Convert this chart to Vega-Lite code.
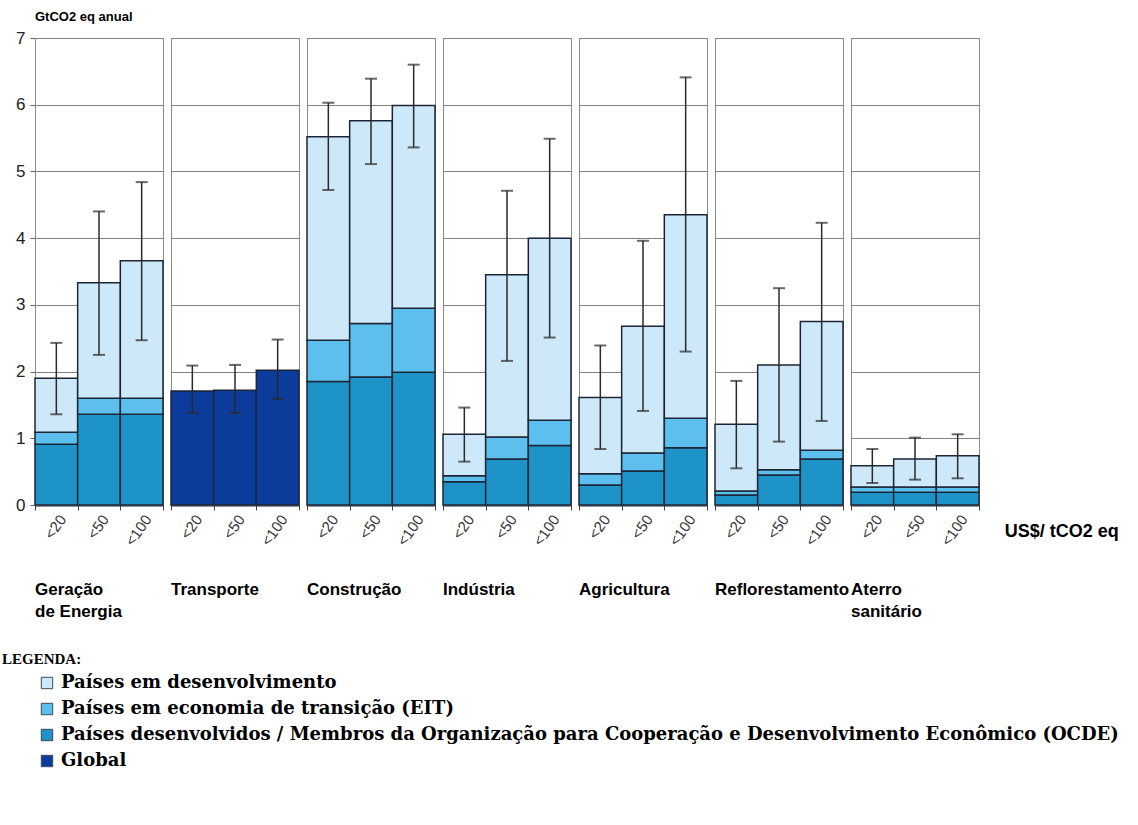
{
  "$schema": "https://vega.github.io/schema/vega-lite/v6.json",
  "padding": {"left": 2, "top": 11, "right": 5, "bottom": 5},
  "bounds": "flush",
  "title": {
    "text": "GtCO2 eq anual",
    "anchor": "start",
    "frame": "group",
    "font": "Liberation Sans",
    "fontSize": 13,
    "fontWeight": "bold",
    "color": "#000000",
    "offset": 5
  },
  "data": {
    "values": [
      {"setor": "Geração de Energia", "preco": "<20", "grupo": "Países desenvolvidos / Membros da Organização para Cooperação e Desenvolvimento Econômico (OCDE)", "ordem": 1, "valor": 0.91},
      {"setor": "Geração de Energia", "preco": "<20", "grupo": "Países em economia de transição (EIT)", "ordem": 2, "valor": 0.18},
      {"setor": "Geração de Energia", "preco": "<20", "grupo": "Países em desenvolvimento", "ordem": 3, "valor": 0.81},
      {"setor": "Geração de Energia", "preco": "<50", "grupo": "Países desenvolvidos / Membros da Organização para Cooperação e Desenvolvimento Econômico (OCDE)", "ordem": 1, "valor": 1.36},
      {"setor": "Geração de Energia", "preco": "<50", "grupo": "Países em economia de transição (EIT)", "ordem": 2, "valor": 0.24},
      {"setor": "Geração de Energia", "preco": "<50", "grupo": "Países em desenvolvimento", "ordem": 3, "valor": 1.73},
      {"setor": "Geração de Energia", "preco": "<100", "grupo": "Países desenvolvidos / Membros da Organização para Cooperação e Desenvolvimento Econômico (OCDE)", "ordem": 1, "valor": 1.36},
      {"setor": "Geração de Energia", "preco": "<100", "grupo": "Países em economia de transição (EIT)", "ordem": 2, "valor": 0.24},
      {"setor": "Geração de Energia", "preco": "<100", "grupo": "Países em desenvolvimento", "ordem": 3, "valor": 2.06},

      {"setor": "Transporte", "preco": "<20", "grupo": "Global", "ordem": 1, "valor": 1.71},
      {"setor": "Transporte", "preco": "<50", "grupo": "Global", "ordem": 1, "valor": 1.72},
      {"setor": "Transporte", "preco": "<100", "grupo": "Global", "ordem": 1, "valor": 2.02},

      {"setor": "Construção", "preco": "<20", "grupo": "Países desenvolvidos / Membros da Organização para Cooperação e Desenvolvimento Econômico (OCDE)", "ordem": 1, "valor": 1.85},
      {"setor": "Construção", "preco": "<20", "grupo": "Países em economia de transição (EIT)", "ordem": 2, "valor": 0.62},
      {"setor": "Construção", "preco": "<20", "grupo": "Países em desenvolvimento", "ordem": 3, "valor": 3.05},
      {"setor": "Construção", "preco": "<50", "grupo": "Países desenvolvidos / Membros da Organização para Cooperação e Desenvolvimento Econômico (OCDE)", "ordem": 1, "valor": 1.92},
      {"setor": "Construção", "preco": "<50", "grupo": "Países em economia de transição (EIT)", "ordem": 2, "valor": 0.80},
      {"setor": "Construção", "preco": "<50", "grupo": "Países em desenvolvimento", "ordem": 3, "valor": 3.04},
      {"setor": "Construção", "preco": "<100", "grupo": "Países desenvolvidos / Membros da Organização para Cooperação e Desenvolvimento Econômico (OCDE)", "ordem": 1, "valor": 1.99},
      {"setor": "Construção", "preco": "<100", "grupo": "Países em economia de transição (EIT)", "ordem": 2, "valor": 0.96},
      {"setor": "Construção", "preco": "<100", "grupo": "Países em desenvolvimento", "ordem": 3, "valor": 3.04},

      {"setor": "Indústria", "preco": "<20", "grupo": "Países desenvolvidos / Membros da Organização para Cooperação e Desenvolvimento Econômico (OCDE)", "ordem": 1, "valor": 0.35},
      {"setor": "Indústria", "preco": "<20", "grupo": "Países em economia de transição (EIT)", "ordem": 2, "valor": 0.09},
      {"setor": "Indústria", "preco": "<20", "grupo": "Países em desenvolvimento", "ordem": 3, "valor": 0.62},
      {"setor": "Indústria", "preco": "<50", "grupo": "Países desenvolvidos / Membros da Organização para Cooperação e Desenvolvimento Econômico (OCDE)", "ordem": 1, "valor": 0.69},
      {"setor": "Indústria", "preco": "<50", "grupo": "Países em economia de transição (EIT)", "ordem": 2, "valor": 0.33},
      {"setor": "Indústria", "preco": "<50", "grupo": "Países em desenvolvimento", "ordem": 3, "valor": 2.43},
      {"setor": "Indústria", "preco": "<100", "grupo": "Países desenvolvidos / Membros da Organização para Cooperação e Desenvolvimento Econômico (OCDE)", "ordem": 1, "valor": 0.89},
      {"setor": "Indústria", "preco": "<100", "grupo": "Países em economia de transição (EIT)", "ordem": 2, "valor": 0.38},
      {"setor": "Indústria", "preco": "<100", "grupo": "Países em desenvolvimento", "ordem": 3, "valor": 2.73},

      {"setor": "Agricultura", "preco": "<20", "grupo": "Países desenvolvidos / Membros da Organização para Cooperação e Desenvolvimento Econômico (OCDE)", "ordem": 1, "valor": 0.30},
      {"setor": "Agricultura", "preco": "<20", "grupo": "Países em economia de transição (EIT)", "ordem": 2, "valor": 0.17},
      {"setor": "Agricultura", "preco": "<20", "grupo": "Países em desenvolvimento", "ordem": 3, "valor": 1.14},
      {"setor": "Agricultura", "preco": "<50", "grupo": "Países desenvolvidos / Membros da Organização para Cooperação e Desenvolvimento Econômico (OCDE)", "ordem": 1, "valor": 0.51},
      {"setor": "Agricultura", "preco": "<50", "grupo": "Países em economia de transição (EIT)", "ordem": 2, "valor": 0.27},
      {"setor": "Agricultura", "preco": "<50", "grupo": "Países em desenvolvimento", "ordem": 3, "valor": 1.90},
      {"setor": "Agricultura", "preco": "<100", "grupo": "Países desenvolvidos / Membros da Organização para Cooperação e Desenvolvimento Econômico (OCDE)", "ordem": 1, "valor": 0.86},
      {"setor": "Agricultura", "preco": "<100", "grupo": "Países em economia de transição (EIT)", "ordem": 2, "valor": 0.44},
      {"setor": "Agricultura", "preco": "<100", "grupo": "Países em desenvolvimento", "ordem": 3, "valor": 3.05},

      {"setor": "Reflorestamento", "preco": "<20", "grupo": "Países desenvolvidos / Membros da Organização para Cooperação e Desenvolvimento Econômico (OCDE)", "ordem": 1, "valor": 0.15},
      {"setor": "Reflorestamento", "preco": "<20", "grupo": "Países em economia de transição (EIT)", "ordem": 2, "valor": 0.06},
      {"setor": "Reflorestamento", "preco": "<20", "grupo": "Países em desenvolvimento", "ordem": 3, "valor": 1.00},
      {"setor": "Reflorestamento", "preco": "<50", "grupo": "Países desenvolvidos / Membros da Organização para Cooperação e Desenvolvimento Econômico (OCDE)", "ordem": 1, "valor": 0.45},
      {"setor": "Reflorestamento", "preco": "<50", "grupo": "Países em economia de transição (EIT)", "ordem": 2, "valor": 0.08},
      {"setor": "Reflorestamento", "preco": "<50", "grupo": "Países em desenvolvimento", "ordem": 3, "valor": 1.57},
      {"setor": "Reflorestamento", "preco": "<100", "grupo": "Países desenvolvidos / Membros da Organização para Cooperação e Desenvolvimento Econômico (OCDE)", "ordem": 1, "valor": 0.69},
      {"setor": "Reflorestamento", "preco": "<100", "grupo": "Países em economia de transição (EIT)", "ordem": 2, "valor": 0.13},
      {"setor": "Reflorestamento", "preco": "<100", "grupo": "Países em desenvolvimento", "ordem": 3, "valor": 1.93},

      {"setor": "Aterro sanitário", "preco": "<20", "grupo": "Países desenvolvidos / Membros da Organização para Cooperação e Desenvolvimento Econômico (OCDE)", "ordem": 1, "valor": 0.19},
      {"setor": "Aterro sanitário", "preco": "<20", "grupo": "Países em economia de transição (EIT)", "ordem": 2, "valor": 0.08},
      {"setor": "Aterro sanitário", "preco": "<20", "grupo": "Países em desenvolvimento", "ordem": 3, "valor": 0.32},
      {"setor": "Aterro sanitário", "preco": "<50", "grupo": "Países desenvolvidos / Membros da Organização para Cooperação e Desenvolvimento Econômico (OCDE)", "ordem": 1, "valor": 0.19},
      {"setor": "Aterro sanitário", "preco": "<50", "grupo": "Países em economia de transição (EIT)", "ordem": 2, "valor": 0.08},
      {"setor": "Aterro sanitário", "preco": "<50", "grupo": "Países em desenvolvimento", "ordem": 3, "valor": 0.42},
      {"setor": "Aterro sanitário", "preco": "<100", "grupo": "Países desenvolvidos / Membros da Organização para Cooperação e Desenvolvimento Econômico (OCDE)", "ordem": 1, "valor": 0.19},
      {"setor": "Aterro sanitário", "preco": "<100", "grupo": "Países em economia de transição (EIT)", "ordem": 2, "valor": 0.08},
      {"setor": "Aterro sanitário", "preco": "<100", "grupo": "Países em desenvolvimento", "ordem": 3, "valor": 0.47},

      {"setor": "Geração de Energia", "preco": "<20", "minimo": 1.36, "maximo": 2.43},
      {"setor": "Geração de Energia", "preco": "<50", "minimo": 2.25, "maximo": 4.40},
      {"setor": "Geração de Energia", "preco": "<100", "minimo": 2.47, "maximo": 4.84},
      {"setor": "Transporte", "preco": "<20", "minimo": 1.38, "maximo": 2.09},
      {"setor": "Transporte", "preco": "<50", "minimo": 1.38, "maximo": 2.10},
      {"setor": "Transporte", "preco": "<100", "minimo": 1.59, "maximo": 2.48},
      {"setor": "Construção", "preco": "<20", "minimo": 4.72, "maximo": 6.03},
      {"setor": "Construção", "preco": "<50", "minimo": 5.11, "maximo": 6.39},
      {"setor": "Construção", "preco": "<100", "minimo": 5.36, "maximo": 6.60},
      {"setor": "Indústria", "preco": "<20", "minimo": 0.65, "maximo": 1.46},
      {"setor": "Indústria", "preco": "<50", "minimo": 2.16, "maximo": 4.71},
      {"setor": "Indústria", "preco": "<100", "minimo": 2.51, "maximo": 5.49},
      {"setor": "Agricultura", "preco": "<20", "minimo": 0.84, "maximo": 2.39},
      {"setor": "Agricultura", "preco": "<50", "minimo": 1.41, "maximo": 3.96},
      {"setor": "Agricultura", "preco": "<100", "minimo": 2.30, "maximo": 6.41},
      {"setor": "Reflorestamento", "preco": "<20", "minimo": 0.55, "maximo": 1.86},
      {"setor": "Reflorestamento", "preco": "<50", "minimo": 0.95, "maximo": 3.25},
      {"setor": "Reflorestamento", "preco": "<100", "minimo": 1.26, "maximo": 4.23},
      {"setor": "Aterro sanitário", "preco": "<20", "minimo": 0.33, "maximo": 0.84},
      {"setor": "Aterro sanitário", "preco": "<50", "minimo": 0.38, "maximo": 1.01},
      {"setor": "Aterro sanitário", "preco": "<100", "minimo": 0.40, "maximo": 1.06}
    ]
  },
  "facet": {
    "column": {
      "field": "setor",
      "type": "nominal",
      "sort": ["Geração de Energia", "Transporte", "Construção", "Indústria", "Agricultura", "Reflorestamento", "Aterro sanitário"],
      "title": null,
      "header": {
        "labelOrient": "bottom",
        "labelExpr": "datum.value == 'Geração de Energia' ? ['Geração', 'de Energia'] : datum.value == 'Aterro sanitário' ? ['Aterro', 'sanitário'] : datum.value",
        "labelFont": "Liberation Sans",
        "labelFontSize": 17,
        "labelFontWeight": "bold",
        "labelColor": "#000000",
        "labelAlign": "left",
        "labelAnchor": "start",
        "labelBaseline": "top",
        "labelLineHeight": 22,
        "labelPadding": 34,
        "labelLimit": 300
      }
    }
  },
  "spacing": 8,
  "spec": {
    "width": 128,
    "height": 467,
    "encoding": {
      "x": {
        "field": "preco",
        "type": "nominal",
        "sort": ["<20", "<50", "<100"],
        "title": null,
        "scale": {"paddingInner": 0, "paddingOuter": 0},
        "axis": {
          "labelAngle": -55,
          "labelAlign": "right",
          "labelBaseline": "middle",
          "labelFontSize": 15,
          "labelColor": "#333333",
          "labelPadding": 6,
          "labelOffset": 6,
          "tickBand": "extent",
          "tickSize": 5,
          "tickColor": "#444444",
          "domainColor": "#1c2636",
          "domainWidth": 2
        }
      }
    },
    "layer": [
      {
        "transform": [{"filter": "isValid(datum.valor)"}],
        "mark": {"type": "bar", "stroke": "#1c2636", "strokeWidth": 1.5},
        "encoding": {
          "y": {
            "field": "valor",
            "type": "quantitative",
            "stack": "zero",
            "scale": {"domain": [0, 7], "nice": false},
            "title": null,
            "axis": {
              "values": [0, 1, 2, 3, 4, 5, 6, 7],
              "format": "d",
              "grid": true,
              "gridColor": "#808080",
              "gridWidth": 1,
              "domain": false,
              "labelFontSize": 17,
              "labelColor": "#222222",
              "labelPadding": 5,
              "tickSize": 5,
              "tickColor": "#666666"
            }
          },
          "color": {
            "field": "grupo",
            "type": "nominal",
            "scale": {
              "domain": [
                "Países em desenvolvimento",
                "Países em economia de transição (EIT)",
                "Países desenvolvidos / Membros da Organização para Cooperação e Desenvolvimento Econômico (OCDE)",
                "Global"
              ],
              "range": ["#cde8f9", "#5dbfee", "#1d93c8", "#0b3b9b"]
            },
            "legend": {
              "orient": "none",
              "legendX": -33,
              "legendY": 614,
              "direction": "vertical",
              "title": "LEGENDA:",
              "titleFont": "Liberation Serif",
              "titleFontSize": 15,
              "titleFontWeight": "bold",
              "titleColor": "#000000",
              "titlePadding": 7,
              "labelFont": "DejaVu Serif",
              "labelFontSize": 18,
              "labelFontWeight": "bold",
              "labelColor": "#000000",
              "labelLimit": 1200,
              "labelOffset": 5,
              "symbolType": "square",
              "symbolSize": 130,
              "symbolStrokeColor": "#3a4a5c",
              "symbolStrokeWidth": 1,
              "symbolOffset": 36,
              "rowPadding": 8
            }
          },
          "order": {"field": "ordem", "type": "quantitative", "sort": "ascending"}
        }
      },
      {
        "transform": [{"filter": "isValid(datum.minimo)"}],
        "mark": {"type": "rule", "color": "#2a2a2a", "strokeWidth": 1.5},
        "encoding": {
          "y": {"field": "minimo", "type": "quantitative"},
          "y2": {"field": "maximo"}
        }
      },
      {
        "transform": [{"filter": "isValid(datum.minimo)"}],
        "mark": {"type": "tick", "orient": "horizontal", "color": "#2a2a2a", "size": 12, "thickness": 2},
        "encoding": {
          "y": {"field": "minimo", "type": "quantitative"}
        }
      },
      {
        "transform": [{"filter": "isValid(datum.minimo)"}],
        "mark": {"type": "tick", "orient": "horizontal", "color": "#2a2a2a", "size": 12, "thickness": 2},
        "encoding": {
          "y": {"field": "maximo", "type": "quantitative"}
        }
      },
      {
        "transform": [{"filter": "isValid(datum.minimo) && datum.setor == 'Aterro sanitário' && datum.preco == '<100'"}],
        "mark": {
          "type": "text",
          "text": "US$/ tCO2 eq",
          "align": "left",
          "baseline": "middle",
          "dx": 47,
          "font": "Liberation Sans",
          "fontSize": 18,
          "fontWeight": "bold",
          "color": "#000000"
        },
        "encoding": {
          "y": {"datum": -0.4}
        }
      }
    ]
  },
  "config": {
    "font": "Liberation Sans",
    "view": {"stroke": "#8a8a8a", "strokeWidth": 1},
    "background": "#ffffff"
  }
}
